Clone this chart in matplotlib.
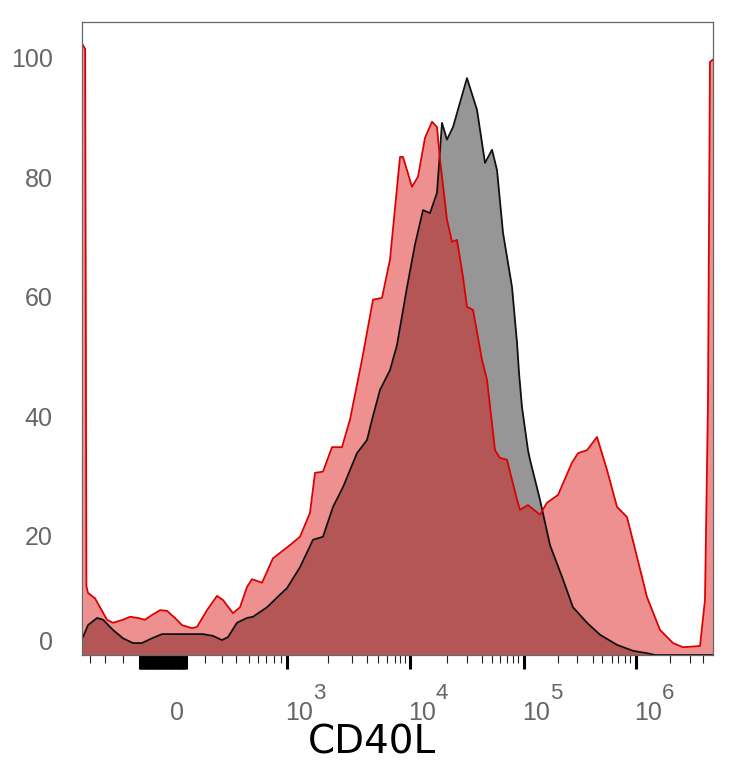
import numpy as np
import matplotlib
matplotlib.use("Agg")
import matplotlib.pyplot as plt
import matplotlib.transforms as mtransforms

plt.rcParams["font.family"] = ["Liberation Sans", "DejaVu Sans"]

# histogram traces, x in display channels (0-1000), y in % of max
ctrl_x = [0, 1.6, 9.5, 23.8, 33.3, 49.1, 65.0, 80.8, 95.1, 110.9, 126.8, 155.3, 191.8,
          207.6, 221.9, 231.4, 245.6, 261.5, 271.0, 293.2, 313.8, 324.9, 345.5, 366.1,
          381.9, 397.8, 413.6, 435.8, 451.7, 459.6, 472.3, 488.1, 499.2, 515.1, 527.7,
          540.4, 551.5, 562.6, 570.5, 578.4, 588.0, 610.1, 626.0, 638.7, 649.8, 657.7,
          667.2, 681.5, 689.4, 692.6, 697.3, 706.8, 710.0, 725.8, 741.7, 760.7, 778.1,
          800.3, 820.9, 847.9, 873.2, 895.4, 908.1, 1000]
ctrl_y = [3.0, 3.0, 5.0, 6.2, 5.9, 4.2, 2.8, 2.0, 2.0, 2.8, 3.5, 3.5, 3.5,
          3.2, 2.5, 3.0, 5.4, 6.2, 6.4, 8.0, 10.1, 11.2, 14.7, 19.3,
          19.8, 24.8, 28.1, 33.8, 36.0, 39.4, 44.4, 47.7, 51.9, 61.6, 68.7,
          74.5, 74.0, 77.4, 89.1, 86.3, 88.4, 96.6, 91.3, 82.4, 84.6, 81.2,
          70.7, 61.6, 52.3, 47.2, 41.5, 34.3, 32.7, 26.0, 18.4, 13.1, 8.0,
          5.4, 3.4, 1.7, 0.7, 0.3, 0.0, 0.0]

stim_x = [1.0, 5.0, 7.0, 9.5, 20.6, 28.5, 39.6, 49.1, 65.0, 76.1, 88.7, 99.8, 110.9,
          123.6, 134.7, 147.4, 158.5, 174.3, 182.3, 198.1, 214.0, 223.5, 239.3, 250.4,
          261.5, 269.4, 285.3, 302.7, 313.8, 329.6, 345.5, 361.3, 369.3, 381.9, 396.2,
          412.0, 424.7, 443.7, 461.2, 475.4, 488.1, 504.0, 508.7, 523.0, 532.5, 543.6,
          554.7, 562.6, 567.4, 578.4, 586.4, 594.3, 603.8, 610.1, 619.7, 633.9, 641.8,
          654.5, 662.4, 673.5, 689.4, 694.1, 706.8, 725.8, 736.9, 754.4, 776.5, 786.1,
          800.3, 816.2, 832.0, 847.9, 863.7, 879.6, 895.4, 916.0, 936.6, 952.5, 979.4,
          987.3, 992.1, 995.2, 1000]
stim_y = [102.2, 101.5, 11.5, 10.4, 9.5, 8.0, 5.9, 5.4, 5.9, 6.4, 6.2, 5.9, 6.7,
          7.5, 7.4, 6.2, 5.0, 4.5, 4.7, 7.5, 9.9, 9.2, 7.0, 8.0,
          11.4, 12.7, 12.1, 16.2, 17.1, 18.4, 19.8, 23.8, 30.5, 30.7, 34.8,
          34.8, 39.4, 49.4, 59.5, 59.8, 66.2, 83.4, 83.4, 78.4, 80.1, 86.6,
          89.3, 88.4, 82.9, 72.9, 69.2, 69.5, 63.3, 58.3, 57.8, 49.4, 46.1,
          34.3, 33.0, 32.7, 26.0, 24.3, 25.1, 23.5, 25.5, 26.8, 32.2, 33.8,
          34.3, 36.5, 31.0, 24.8, 23.1, 16.4, 9.7, 4.2, 2.0, 1.3, 1.5,
          9.2, 42.7, 99.3, 99.7]

# axis decorations (biexponential display)
decade_pos = [324.9, 519.8, 700.5, 878.0]
decade_exp = ["3", "4", "5", "6"]
zero_label_pos = 139.5
minor_pos = [12.7, 36.5, 65.0, 194.9, 221.9, 244.1, 264.7, 278.9, 291.6, 304.3, 315.4,
             389.9, 427.9, 451.7, 469.1, 483.4, 496.1, 504.0, 511.9,
             578.4, 610.1, 633.9, 649.8, 662.4, 673.5, 683.0, 690.9,
             754.4, 784.5, 809.9, 824.2, 840.0, 849.5, 860.6, 868.5,
             931.9, 963.6, 984.2]
y_ticks = [0, 20, 40, 60, 80, 100]

fig = plt.figure(figsize=(7.34, 7.68), dpi=100)
ax = fig.add_axes([82 / 734, 113 / 768, 631 / 734, 633 / 768])

ax.fill_between(ctrl_x, ctrl_y, 0, color="#969696", lw=0)
ax.plot(ctrl_x, ctrl_y, color="#111111", lw=1.3)
ax.fill_between(stim_x, stim_y, 0, color="#dc0a0a", alpha=0.45, lw=0)
ax.plot(stim_x, stim_y, color="#dd0000", lw=1.3)

ax.set_xlim(0, 1000)
ax.set_ylim(0, 106)

for s in ax.spines.values():
    s.set_color("#666666")
    s.set_linewidth(0.9)

# x ticks: dense block around zero + decades as major, the rest minor
block = list(np.arange(92, 166, 2.2))
ax.set_xticks(block + decade_pos)
ax.set_xticklabels([])
ax.set_xticks(minor_pos, minor=True)
ax.tick_params(axis="x", which="major", length=10, width=2.2, color="black")
ax.tick_params(axis="x", which="minor", length=5.8, width=0.8, color="#222222")

ax.set_yticks(y_ticks)
ax.set_yticklabels([str(v) for v in y_ticks])
ax.tick_params(axis="y", length=0, pad=21, labelsize=18, labelcolor="#666666")
ax.get_yticklabels()[0].set_va("bottom")

trans = mtransforms.blended_transform_factory(ax.transData, ax.transAxes)
ax.text(zero_label_pos, -0.103, "0", transform=trans, ha="left", va="baseline",
        fontsize=18, color="#666666")
for xp, e in zip(decade_pos, decade_exp):
    ax.text(xp - 3, -0.103, "10", transform=trans, ha="left", va="baseline",
            fontsize=18, color="#666666")
    ax.annotate(e, xy=(xp - 3, -0.103), xycoords=trans, xytext=(20, 15.5),
                textcoords="offset points", ha="left", va="baseline",
                fontsize=16, color="#666666")

ax.set_xlabel("CD40L", fontsize=28, family="DejaVu Sans", color="black", va="baseline")
ax.xaxis.set_label_coords(0.46, -0.155)

fig.savefig("out.png", dpi=100)
